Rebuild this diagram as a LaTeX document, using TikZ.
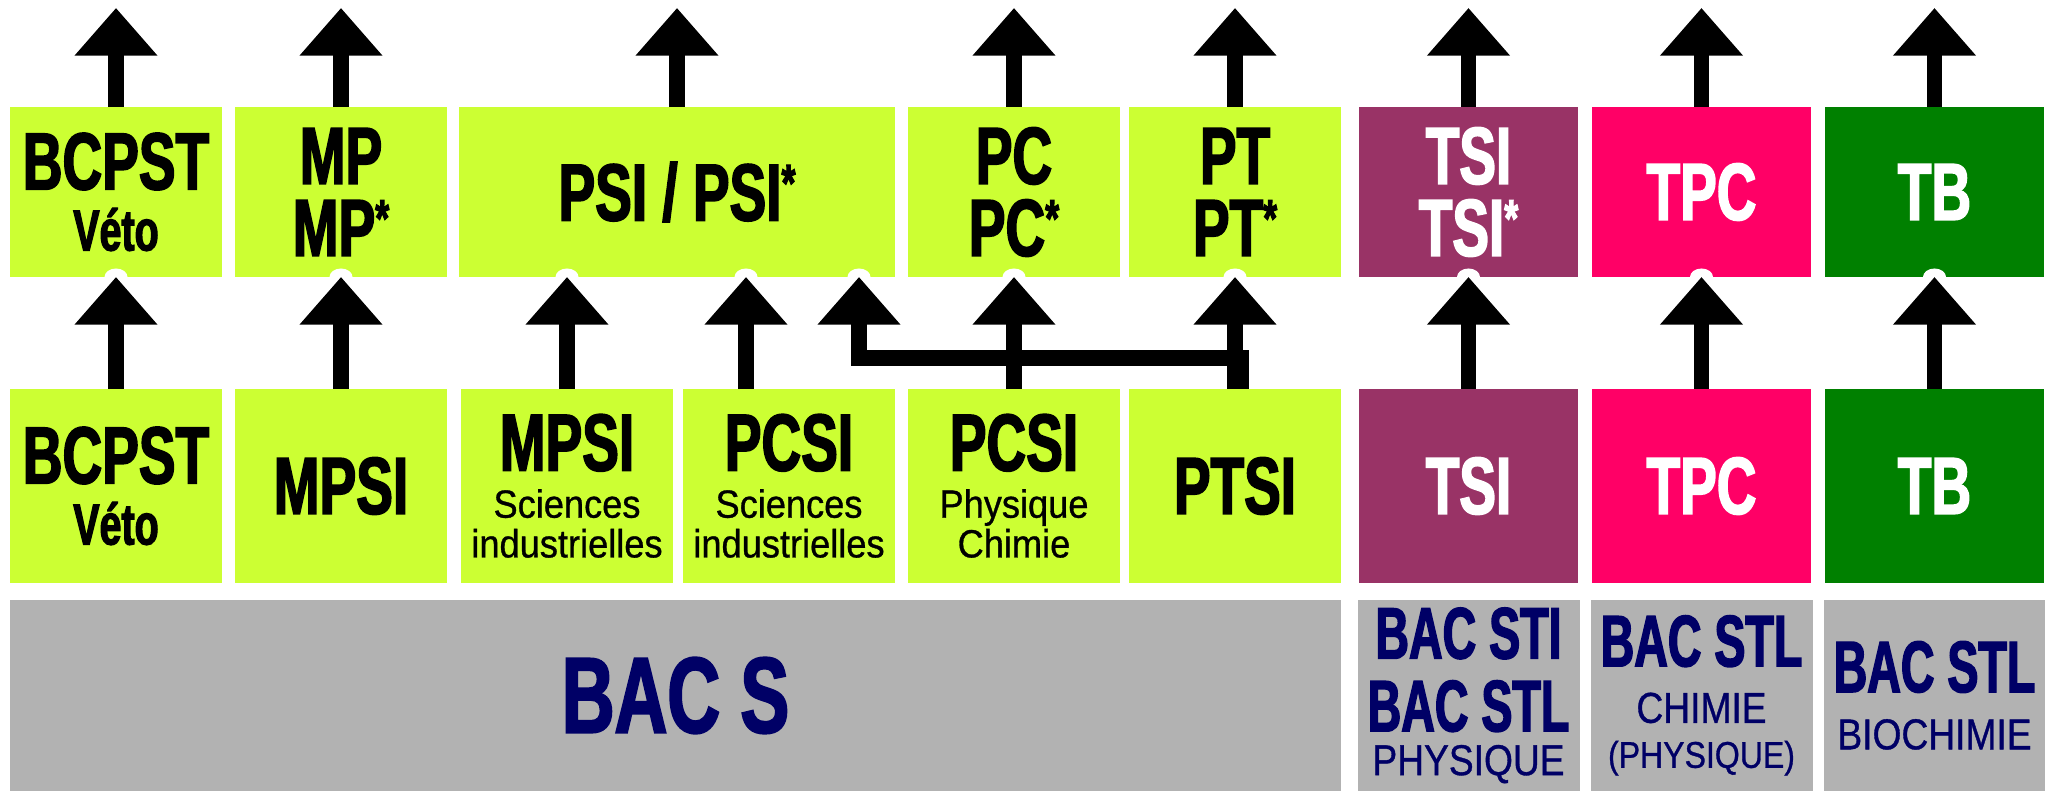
\documentclass[tikz,border=0pt]{standalone}
\usepackage{fontspec}
\usepackage{tikz}
\usetikzlibrary{positioning, arrows.meta}
\newfontfamily\heavyfont[FakeStretch=0.68, FakeBold=2]{Liberation Sans Bold}
\newfontfamily\bacfont[FakeStretch=0.64, FakeBold=2]{Liberation Sans Bold}
\newfontfamily\narrowfont[FakeStretch=0.86, FakeBold=0.8]{Liberation Sans}
\newfontfamily\subfont[FakeStretch=0.92, FakeBold=0.8]{Liberation Sans}
\definecolor{prepalime}{RGB}{204, 255, 51}
\definecolor{tsipurple}{RGB}{153, 51, 102}
\definecolor{tpcpink}{RGB}{255, 0, 102}
\definecolor{tbgreen}{RGB}{0, 128, 0}
\definecolor{bacgrey}{RGB}{178, 178, 178}
\definecolor{bacnavy}{RGB}{0, 0, 102}
\newcommand{\classtxt}{\heavyfont\fontsize{23}{20.5}\selectfont}
\newcommand{\vetotxt}{\heavyfont\fontsize{16.5}{17.4}\selectfont}
\newcommand{\subtxt}{\subfont\fontsize{11.2}{11.3}\selectfont}
\newcommand{\bacStxt}{\heavyfont\fontsize{30.6}{30}\selectfont}
\newcommand{\bactxt}{\bacfont\fontsize{20.7}{20.7}\selectfont}
\newcommand{\bacsubtxt}{\narrowfont\fontsize{12.3}{12.5}\selectfont}
\newcommand{\etoile}{\raisebox{5.5pt}{\fontsize{15}{15}\selectfont*}}

\begin{document}
\begin{tikzpicture}[node distance = 0.13cm,
  box/.style = {minimum width = 2.12cm, inner sep = 0pt, outer sep = 0pt, align = center, font = \classtxt},
  top/.style = {box, minimum height = 1.70cm},
  low/.style = {box, minimum height = 1.94cm},
  cpge/.style = {fill = prepalime, text = black},
  bac/.style = {box, fill = bacgrey, text = bacnavy, minimum height = 1.91cm, font = \bactxt},
  notch/.style = {fill = white},
  up/.style = {line width = 0.156cm, -{Triangle[length = 4.77mm, width = 8mm]}}]
  \useasboundingbox (0, 0) rectangle (20.52, 7.91);

  % second year
  \node [top, cpge] (t1) at (1.16, 5.99) {BCPST\\[-3.1pt] \vetotxt Véto};
  \node [top, cpge, right = of t1] (t2) {MP\\ MP\etoile};
  \node [top, cpge, right = 0.12cm of t2, minimum width = 4.36cm] (t3) {PSI / PSI\etoile};
  \node [top, cpge, right = of t3] (t4) {PC\\ PC\etoile};
  \node [top, cpge, right = 0.09cm of t4] (t5) {PT\\ PT\etoile};
  \node [top, fill = tsipurple, text = white, right = 0.18cm of t5, minimum width = 2.19cm] (t6) {TSI\\ TSI\etoile};
  \node [top, fill = tpcpink, text = white, right = 0.14cm of t6, minimum width = 2.19cm] (t7) {TPC};
  \node [top, fill = tbgreen, text = white, right = 0.14cm of t7, minimum width = 2.19cm] (t8) {TB};

  % first year
  \node [low, cpge, below = 1.12cm of t1] (b1) {BCPST\\[-3.1pt] \vetotxt Véto};
  \node [low, cpge, below = 1.12cm of t2] (b2) {MPSI};
  \node [low, cpge, right = 0.14cm of b2] (b3) {MPSI\\[-7.1pt] \subtxt Sciences\\[-9.2pt] \subtxt industrielles};
  \node [low, cpge, right = 0.10cm of b3] (b4) {PCSI\\[-7.1pt] \subtxt Sciences\\[-9.2pt] \subtxt industrielles};
  \node [low, cpge, below = 1.12cm of t4] (b5) {PCSI\\[-7.1pt] \subtxt Physique\\[-9.2pt] \subtxt Chimie};
  \node [low, cpge, below = 1.12cm of t5] (b6) {PTSI};
  \node [low, fill = tsipurple, text = white, below = 1.12cm of t6, minimum width = 2.19cm] (b7) {TSI};
  \node [low, fill = tpcpink, text = white, below = 1.12cm of t7, minimum width = 2.19cm] (b8) {TPC};
  \node [low, fill = tbgreen, text = white, below = 1.12cm of t8, minimum width = 2.19cm] (b9) {TB};

  % baccalaureat
  \node [bac, below = 0.17cm of b1.south west, anchor = north west, minimum width = 13.31cm] (bacS) {\bacStxt BAC S};
  \node [bac, below = 0.17cm of b7, minimum width = 2.22cm] (bacSTI) {BAC STI\\ BAC STL\\[-8.2pt] \bacsubtxt PHYSIQUE};
  \node [bac, below = 0.17cm of b8, minimum width = 2.22cm] (bacSTLc) {BAC STL\\[-4.6pt] \bacsubtxt CHIMIE\\[-7.9pt] \narrowfont\fontsize{10.6}{11}\selectfont (PHYSIQUE)};
  \node [bac, below = 0.17cm of b9, minimum width = 2.21cm] (bacSTLb) {BAC STL\\[-4.4pt] \bacsubtxt BIOCHIMIE};

  % arrow ends
  \foreach \i in {1,...,8}
    \coordinate (out\i) at ([yshift = 0.99cm]t\i.north);
  \coordinate (psiA) at (b3.north |- t3.south);
  \coordinate (psiB) at ([xshift = -0.43cm]b4.north |- t3.south);
  \coordinate (psiC) at ([xshift = -0.36cm]t3.south east);

  % notches
  \foreach \n in {t1.south, t2.south, psiA, psiB, psiC, t4.south, t5.south, t6.south, t7.south, t8.south}
    \fill [notch] (\n) ellipse (1.15mm and 0.85mm);

  % edges
  \foreach \i in {1,...,8}
    \draw [up] (t\i.north) -- (out\i);
  \draw [up] (b1) -- (t1);
  \draw [up] (b2) -- (t2);
  \draw [up] (b3.north) -- (psiA);
  \draw [up] ([xshift = -0.43cm]b4.north) -- (psiB);
  \draw [up] (b5) -- (t4);
  \draw [up] (b6) -- (t5);
  \draw [up] ([xshift = 0.06cm]b6.north) |- ([yshift = -0.81cm]psiC) -- (psiC);
  \draw [up] (b7) -- (t6);
  \draw [up] (b8) -- (t7);
  \draw [up] (b9) -- (t8);
\end{tikzpicture}
\end{document}
